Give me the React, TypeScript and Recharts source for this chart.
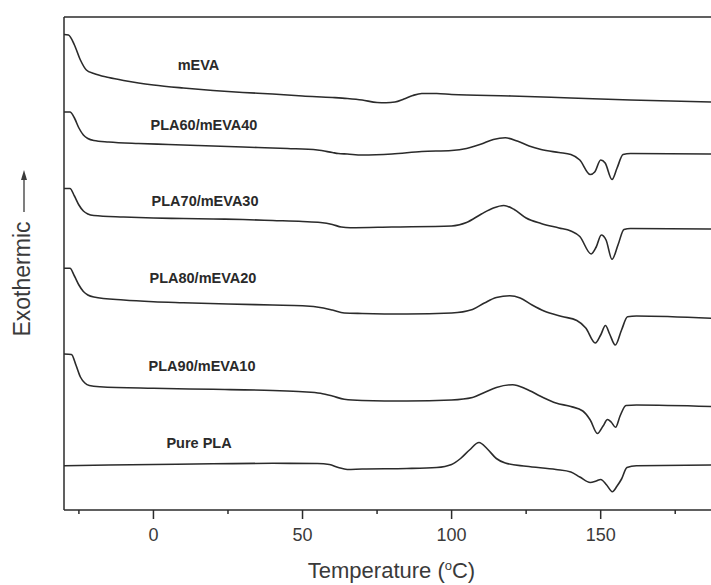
import React from 'react';
import { LineChart, Line, XAxis, YAxis, ReferenceDot, ReferenceLine } from 'recharts';

type Pt = [number, number];

// Temperature (°C), relative heat flow (arbitrary units, stacked)
const mEVA: Pt[] = [
  [-30, 475.5], [-28.5, 475], [-26.5, 465], [-24.5, 450], [-22.5, 440], [-20, 436.5],
  [-15, 432.5], [-10, 429.5], [-5, 427], [0, 425], [10, 422], [20, 419.5], [30, 417.5],
  [40, 416], [50, 414], [60, 412.5], [65, 411.5], [70, 410], [75, 407.5], [78, 407.3],
  [81, 408], [84, 411], [87, 414.5], [90, 416.5], [95, 416.5], [100, 415.5], [120, 414],
  [140, 412], [160, 410], [187, 408],
];

const pla60: Pt[] = [
  [-30, 398], [-28, 398], [-26.5, 392], [-25, 382], [-23.5, 375], [-22, 371.5], [-20, 369.5],
  [-15, 368], [-5, 366.5], [5, 365.5], [15, 364.5], [25, 363.5], [35, 362.5], [45, 361.5],
  [55, 360], [60, 357.5], [62, 356.5], [65, 356], [70, 355], [80, 356], [90, 358.5],
  [100, 359.5], [105, 361.5], [110, 366], [114, 370.5], [118, 372.2], [122, 369], [126, 364],
  [130, 360.5], [136, 357.5], [140, 355.5], [143, 350], [146.5, 335.5], [148, 338], [150, 350],
  [151.5, 347], [153.8, 330.5], [155.5, 342], [157.5, 355.5], [160, 356.5], [187, 356],
];

const pla70: Pt[] = [
  [-30, 321.5], [-28, 321.5], [-26.5, 314], [-25, 305], [-23.5, 299], [-22, 296], [-20, 294.5],
  [-10, 293], [0, 292], [10, 291.5], [20, 291], [30, 290.5], [40, 289.5], [50, 288.5],
  [56, 287.5], [60, 285.5], [63, 283], [66, 282.3], [80, 283], [100, 284], [105, 287.5],
  [110, 296], [114, 302], [117.5, 304.5], [121, 300.5], [125, 292], [130, 286.5], [136, 282],
  [140, 279], [143, 273.5], [146.8, 256], [148.5, 263], [150.2, 275], [151.8, 270],
  [153.8, 250.7], [155.8, 265], [157.8, 280.5], [160, 281.5], [187, 281],
];

const pla80: Pt[] = [
  [-30, 241.7], [-28, 241.7], [-26.5, 234], [-25, 225], [-23.5, 218.5], [-22, 215], [-20, 213],
  [-10, 210], [0, 208.3], [10, 207.3], [25, 206], [40, 205], [50, 204.3], [57, 202], [60, 200],
  [64, 197], [70, 196.5], [85, 196], [100, 197], [107, 200.5], [111, 207], [115, 212.5],
  [119.5, 214.2], [123, 212], [127, 205], [131, 199], [137, 193.5], [142, 189.5], [145, 182],
  [148.2, 167], [150, 175], [151.6, 184.5], [153, 176], [154.9, 165], [157, 180], [159, 193.2],
  [162, 194], [187, 191.7],
];

const pla90: Pt[] = [
  [-30, 156], [-27.5, 155.5], [-26, 145], [-24.5, 133], [-23, 127], [-21.5, 124.5], [-18, 123.3],
  [0, 121.7], [20, 120.7], [40, 119.5], [50, 118.3], [56, 116.7], [60, 114], [64, 110.7],
  [70, 109.5], [85, 109], [100, 110], [107, 112.5], [111, 117.5], [115, 122.5], [120.5, 125.3],
  [125, 121], [130, 113.5], [135, 107], [140, 103.5], [144, 99], [146.5, 90], [148.9, 76.5],
  [150.8, 84], [152.3, 90.5], [153.5, 88], [155, 82.7], [156.5, 94], [158.5, 104.5],
  [162, 105], [187, 103.5],
];

const purePLA: Pt[] = [
  [-30, 44.3], [-15, 45], [0, 45.5], [20, 46.2], [40, 46.7], [55, 46.5], [59, 45.5], [62, 42.5],
  [65, 40.5], [70, 41], [85, 41.5], [95, 42.5], [100, 45.5], [103, 51.5], [106, 60],
  [109.2, 67.5], [112, 61], [115, 51.5], [118, 47], [125, 43.7], [135, 40.5], [140, 38],
  [143, 33], [146.5, 27.5], [148.5, 29], [150, 30.5], [152, 25], [153.9, 18.3], [155.5, 24],
  [157, 31], [158.8, 42.5], [162, 44.3], [187, 45],
];

const seriesNames = ['mEVA', 'PLA60/mEVA40', 'PLA70/mEVA30', 'PLA80/mEVA20', 'PLA90/mEVA10', 'Pure PLA'];
const seriesData = [mEVA, pla60, pla70, pla80, pla90, purePLA];
const labelAnchors: Pt[] = [
  [15.1, 440], [16.95, 380.5], [17.3, 304], [16.6, 227], [16.3, 139.3], [15.3, 62],
];

const majorTicks = [0, 50, 100, 150];
const minorTicks = [-25, 25, 75, 125, 175];
const allTicks = [...minorTicks, ...majorTicks].sort((a, b) => a - b);

const X_DOMAIN: [number, number] = [-30, 187];
const Y_DOMAIN: [number, number] = [0, 493];

const FONT = '"Liberation Sans", Arial, Helvetica, sans-serif';
const INK = '#2b2b2b';

const toRows = (pts: Pt[]) => pts.map(([t, v]) => ({ t, v }));

const XTick = (props: any) => {
  const { x, y, payload } = props;
  const major = majorTicks.includes(payload.value);
  return (
    <g>
      <line x1={x} x2={x} y1={y} y2={y + (major ? 9 : 4)} stroke={INK} strokeWidth={1.5} />
      {major && (
        <text x={x} y={y + 31} textAnchor="middle" fontSize={18} fill="#3a3a3a" fontFamily={FONT}>
          {payload.value}
        </text>
      )}
    </g>
  );
};

const XTitle = (props: any) => {
  const vb = props.viewBox;
  const cx = vb.x + vb.width / 2 + 4;
  return (
    <text x={cx} y={578} textAnchor="middle" fontSize={22} fill="#3a3a3a" fontFamily={FONT}>
      Temperature (
      <tspan dy={-8} fontSize={13}>o</tspan>
      <tspan dy={8}>C)</tspan>
    </text>
  );
};

const YTitle = () => (
  <g>
    <text
      x={22}
      y={279}
      transform="rotate(-90, 22, 279)"
      textAnchor="middle"
      dominantBaseline="central"
      fontSize={23}
      fill="#3a3a3a"
      fontFamily={FONT}
    >
      Exothermic
    </text>
    <line x1={24} x2={24} y1={212} y2={177} stroke="#3a3a3a" strokeWidth={1.3} />
    <polygon points="24,170 21,180 27,180" fill="#3a3a3a" />
  </g>
);

export default function App() {
  return (
    <div style={{ position: 'absolute', left: 0, top: 0, background: '#fff' }}>
      <LineChart width={711} height={585} margin={{ top: 17, right: 0, bottom: 0, left: 0 }}>
        <XAxis
          type="number"
          dataKey="t"
          domain={X_DOMAIN}
          allowDataOverflow
          ticks={allTicks}
          interval={0}
          tickLine={false}
          tickSize={0}
          tickMargin={0}
          tick={<XTick />}
          height={75}
          axisLine={{ stroke: INK, strokeWidth: 1.5 }}
          label={<XTitle />}
        />
        <YAxis
          type="number"
          domain={Y_DOMAIN}
          allowDataOverflow
          width={64}
          tick={false}
          tickLine={false}
          axisLine={{ stroke: INK, strokeWidth: 1.5 }}
          label={<YTitle />}
        />
        <ReferenceLine y={Y_DOMAIN[1]} stroke={INK} strokeWidth={1.5} />
        {seriesData.map((s, i) => (
          <Line
            key={seriesNames[i]}
            data={toRows(s)}
            dataKey="v"
            type="monotone"
            dot={false}
            activeDot={false}
            stroke={INK}
            strokeWidth={1.6}
            isAnimationActive={false}
          />
        ))}
        {labelAnchors.map(([t, v], i) => (
          <ReferenceDot
            key={'lbl' + i}
            x={t}
            y={v}
            r={0}
            fill="none"
            stroke="none"
            label={(p: any) => (
              <text
                x={p.viewBox.x}
                y={p.viewBox.y}
                textAnchor="middle"
                fontSize={14.5}
                fontWeight="bold"
                fill="#2a2a2a"
                fontFamily={FONT}
              >
                {seriesNames[i]}
              </text>
            )}
          />
        ))}
      </LineChart>
    </div>
  );
}
